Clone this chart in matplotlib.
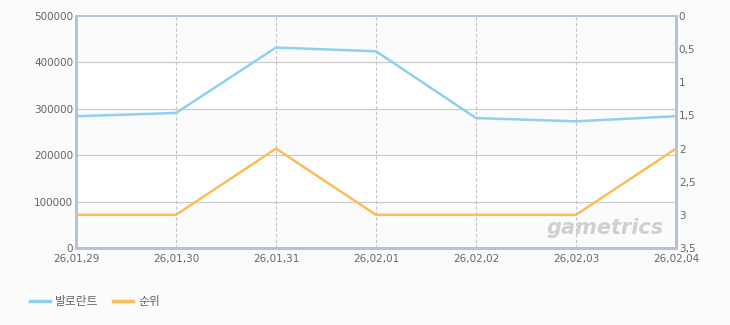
import numpy as np
import matplotlib.pyplot as plt
from matplotlib.ticker import FuncFormatter

plt.rcParams['font.family'] = ['DejaVu Sans', 'Noto Sans CJK KR']

# Daten
dates = ["26,01,29", "26,01,30", "26,01,31", "26,02,01", "26,02,02", "26,02,03", "26,02,04"]
players = [284000, 291000, 432000, 424000, 280000, 273000, 284000]
rank = [3, 3, 2, 3, 3, 3, 2]
left_ticks = [0, 100000, 200000, 300000, 400000, 500000]
right_ticks = [0, 0.5, 1, 1.5, 2, 2.5, 3, 3.5]

blue = "#8fd0f0"
orange = "#fbbd5c"
txt = "#666666"
edge = "#b4c4d6"

fig = plt.figure(figsize=(7.3, 3.25), dpi=100, facecolor="#fbfbfb")
ax = fig.add_axes([76/730, 1-248/325, 600/730, 232/325])
ax.set_facecolor("#fbfbfb")
x = np.arange(len(dates))

# weisse Streifen
for i in (1, 3):
    ax.axhspan(left_ticks[i], left_ticks[i+1], color="white", zorder=0)

ax.set_xlim(0, len(dates) - 1)
ax.set_ylim(0, 500000)
ax.set_yticks(left_ticks)
ax.set_xticks(x)
ax.set_xticklabels(dates)
for v in left_ticks[1:-1]:
    ax.axhline(v, color="#cccccc", lw=0.9, zorder=1)
for xi in x[1:-1]:
    ax.axvline(xi, color="#c4c4c4", lw=0.8, ls=(0, (3, 2)), zorder=1)

ax.plot(x, players, color=blue, lw=1.8, zorder=3, solid_capstyle="round")

ax2 = ax.twinx()
ax2.set_ylim(3.5, 0)
ax2.set_yticks(right_ticks)
ax2.yaxis.set_major_formatter(FuncFormatter(lambda v, p: ("%g" % v).replace(".", ",")))
ax2.plot(x, rank, color=orange, lw=1.8, zorder=3, solid_capstyle="round")

for a in (ax, ax2):
    a.tick_params(length=0, labelsize=7.5, colors=txt, pad=2)
    for s in ("left", "right", "bottom", "top"):
        a.spines[s].set_color(edge)
    a.spines["top"].set_linewidth(1.2)
    a.spines["left"].set_linewidth(2)
    a.spines["right"].set_linewidth(2)
    a.spines["bottom"].set_linewidth(2)
ax.tick_params(axis="x", pad=4)

# Wasserzeichen
ax.text(0.98, 0.085, "gametrics", transform=ax.transAxes, ha="right", va="center",
        fontsize=15, fontstyle="italic", fontweight="bold", color="#d0d0d0", zorder=2)

# Legende
fig.lines.append(plt.Line2D([30/730, 50/730], [1-301/325]*2, color=blue, lw=2.5, transform=fig.transFigure))
fig.text(55/730, 1-301/325, "발로란트", fontsize=8.5, color=txt, va="center", family=['Noto Sans CJK KR'])
fig.lines.append(plt.Line2D([113/730, 133/730], [1-301/325]*2, color=orange, lw=2.5, transform=fig.transFigure))
fig.text(138/730, 1-301/325, "순위", fontsize=8.5, color=txt, va="center", family=['Noto Sans CJK KR'])

fig.savefig("out.png", dpi=100, facecolor=fig.get_facecolor())
